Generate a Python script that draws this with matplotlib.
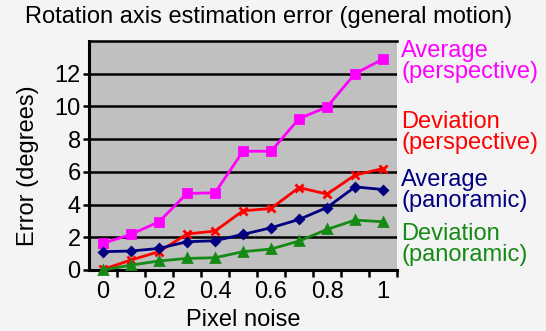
import matplotlib
matplotlib.use("Agg")
import matplotlib.pyplot as plt
import numpy as np

plt.rcParams['font.family'] = ['Liberation Sans', 'DejaVu Sans']

# pixel noise categories (Excel-style category axis)
noise = [0, 0.1, 0.2, 0.3, 0.4, 0.5, 0.6, 0.7, 0.8, 0.9, 1]
tick_labels = ['0', '', '0.2', '', '0.4', '', '0.6', '', '0.8', '', '1']

avg_persp = [1.63, 2.18, 2.95, 4.68, 4.72, 7.26, 7.26, 9.25, 9.97, 12.0, 12.9]
dev_persp = [0.04, 0.61, 1.12, 2.2, 2.38, 3.62, 3.76, 5.04, 4.64, 5.8, 6.2]
avg_pano = [1.12, 1.16, 1.32, 1.73, 1.79, 2.18, 2.58, 3.09, 3.82, 5.08, 4.92]
dev_pano = [0.0, 0.3, 0.55, 0.71, 0.75, 1.12, 1.28, 1.77, 2.48, 3.05, 2.95]

series = [
    ("Average\n(perspective)", avg_persp, '#ff00ff', 's', 5.5, 50, 73),
    ("Deviation\n(perspective)", dev_persp, '#ff0000', 'x', 6, 122, 143),
    ("Average\n(panoramic)", avg_pano, '#000080', 'D', 4, 178, 203),
    ("Deviation\n(panoramic)", dev_pano, '#158a15', '^', 5.5, 232, 257),
]

W, H = 546, 331
fig = plt.figure(figsize=(W / 100, H / 100), dpi=100, facecolor='#f4f4f4')
ax = fig.add_axes([89 / W, 1 - 270 / H, (397 - 89) / W, (270 - 41) / H])
ax.set_facecolor('#c0c0c0')

x = np.arange(len(noise))
for label, vals, color, marker, ms, y1, y2 in series:
    ax.plot(x, vals, color=color, lw=2, marker=marker, ms=ms,
            mew=2, clip_on=False, zorder=3)
    fig.text(401 / W, 1 - (y1 + y2) / 2 / H, label, color=color, fontsize=17,
             ha='left', va='center', linespacing=0.93)

ax.set_xlim(-0.5, len(noise) - 0.5)
ax.set_ylim(0, 14)
ax.set_yticks(np.arange(0, 13, 2))
ax.yaxis.grid(True, color='black', lw=1.8)
ax.axhline(14, color='black', lw=1.8, clip_on=False)
ax.set_axisbelow(True)

ax.set_xticks(x)
ax.set_xticklabels(tick_labels)
ax.set_xticks(np.arange(0.5, len(noise), 1), minor=True)
ax.tick_params(axis='x', which='major', length=0, labelsize=17, pad=8)
ax.tick_params(axis='x', which='minor', length=5, width=1.8, direction='out')
ax.tick_params(axis='y', length=4, width=1.8, labelsize=17, pad=2)

for s in ['top', 'right']:
    ax.spines[s].set_visible(False)
for s in ['left', 'bottom']:
    ax.spines[s].set_linewidth(2.2)

ax.set_xlabel('Pixel noise', fontsize=17, labelpad=4)
# y label sits a bit lower than the axes centre in the original
fig.text(28 / W, 1 - 166 / H, 'Error (degrees)', fontsize=17, rotation=90,
         ha='center', va='center')
fig.text(269 / W, 1 - 17 / H, 'Rotation axis estimation error (general motion)',
         fontsize=17, ha='center', va='center')

fig.savefig('out.png', dpi=100, facecolor=fig.get_facecolor())
